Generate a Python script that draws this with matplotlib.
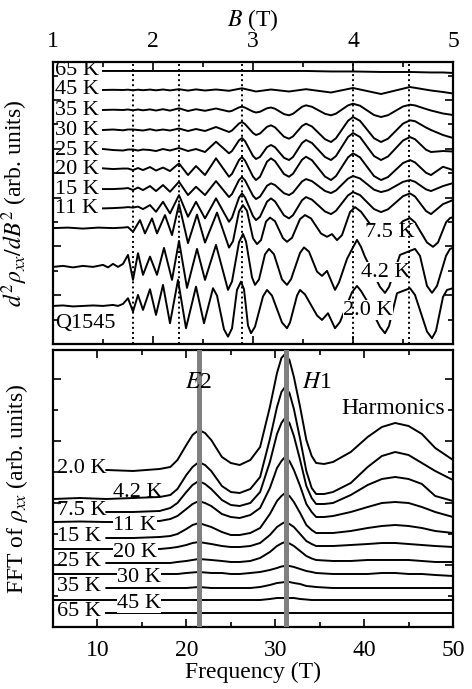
import numpy as np
import matplotlib
matplotlib.use("Agg")
import matplotlib.pyplot as plt
from matplotlib.ticker import MultipleLocator

plt.rcParams['font.family'] = ['Liberation Serif', 'DejaVu Serif']
plt.rcParams['mathtext.fontset'] = 'stix'

nan = np.nan

# ---------------- top panel: d2rho/dB2 vs B ----------------
B_flat = [1.50, 1.60, 1.70, 1.75, 1.80, 1.85, 1.90, 1.97, 2.03, 2.10, 2.17, 2.26, 2.35, 2.43,
          2.52, 2.63, 2.76, 2.89, 3.03, 3.18, 3.36, 3.53, 3.78, 4.00, 4.28, 4.57, 4.78, 4.90, 5.00]
h_65K = [0, 0, 0, 0, 0, 0, 0, 0, 0, 0, 0, 0, 0, 0, 0, 0, 0, 0, 0, 0, 0, 0,
         -0.5, -0.5, -1, -1, -1.5, -1.5, -2]
h_45K = [0, 0.2, 0, 0.3, -0.3, 0.3, -0.2, 0.4, -0.3, 0.5, -0.4, 0.8, -0.6, 0.6, -0.5,
         0.5, -0.8, 1.7, -1.5, 0.5, -1.5, 0.8, -2.5, 2.0, -4.0, 3.0, -0.5, -2.0, -3.5]

B_grid = [1.50, 1.60, 1.70, 1.75, 1.80, 1.85, 1.90, 1.97, 2.03, 2.10, 2.17, 2.26, 2.35, 2.43,
          2.52, 2.63, 2.76, 2.79, 2.86, 2.89, 2.92, 3.00, 3.03, 3.07, 3.14, 3.18, 3.22, 3.31,
          3.36, 3.40, 3.49, 3.53, 3.59, 3.72, 3.78, 3.83, 3.95, 4.00, 4.07, 4.21, 4.28, 4.35,
          4.50, 4.57, 4.62, 4.73, 4.78, 4.90, 5.00]
h_35K = [0, 0.3, 0, 0.5, -0.3, 0.5, -0.3, 0.6, -0.5, 0.8, -0.6, 1.7, -1.0, 0.8, -0.8, 1.5, -1.5,
         -0.8, 2.6, 3.3, 2.4, -1.6, -2.5, -1.75, 1.75, 2.5, 1.3, -4.1, -5.3, -3.8, 3.2, 4.7,
         3.2, -3.8, -5.3, -3.6, 4.6, 6.3, 4.3, -5.0, -7.0, -5.2, 3.5, 5.3, 4.6, 1.0, -0.5,
         -3.5, -5.0]
h_30K = [0, 0.5, -0.3, 0.5, 0.5, 0, -0.5, 0.8, -0.5, 0.5, -0.5, 1.5, -1.0, 1.0, -1.0, 3.0, -2.0,
         -0.5, 6.5, 8.0, 6.0, -3.0, -5.0, -3.5, 3.2, 4.7, 2.7, -6.7, -8.7, -6.4, 4.0, 6.3,
         3.5, -9.2, -12.0, -8.2, 9.2, 13.0, 9.2, -8.2, -12.0, -8.7, 6.4, 9.7, 8.8, 2.5, 0,
         -5.0, -8.0]
h_25K = [1, 0, -0.5, 0.5, 0.5, -0.5, 0.5, 0, -1, 1, -0.5, 2, -1, 1, -2, 8.3, -3.3,
         -1.0, 9.7, 12, 8.9, -5.9, -9, -6.9, 2.9, 5, 2.8, -7.8, -10, -7, 7, 10,
         7, -7, -10, -6, 13, 17, 13, -6, -10, -6.5, 9.5, 13, 10.8, 0.3, -2,
         -1, -1.5]
h_20K = [0.7, 0, 0.5, 0.5, -1, 1, -1, 2, -1.5, 1.5, -2, 5.7, -6, 3, -6, 10.7, -7.7,
         -4.8, 9.0, 12, 8.5, -7.5, -11, -7.7, 7.4, 10.7, 7.9, -5.0, -7.7, -4.7, 9.3, 12.3,
         8.8, -7.5, -11, -7, 11.7, 15.7, 11.7, -7, -11, -8, 6, 9, 6.7, -3.7, -6,
         2.3, -1]
h_15K = [0, 0, 0.5, 1, -1, 1.5, -1, 3, -2, 4, -2.7, 7.3, -6, 2.3, -6, 8, -8,
         -5, 9, 12, 8.7, -6.7, -10, -7.6, 3.3, 5.7, 4.0, -4.2, -6, -3.6, 7.6, 10,
         7.9, -1.9, -4, -1.4, 10.4, 13, 10.6, -0.6, -3, -1.2, 7.2, 9, 7.3, -0.3, -2,
         3, 6]
h_11K = [-0.3, 0, 0.5, 1, 0.5, 1.5, -1, 3, -3.7, 6.3, -5.3, 13, -8.7, 6.3, -10.3, 9.7, -13.7,
         -9.5, 10.5, 14.7, 10.7, -8, -12, -8.7, 6.4, 9.7, 6.7, -7.3, -10.3, -7.1, 7.8, 11,
         8.4, -3.4, -6, -2.7, 12.7, 16, 13, -1, -4, -1.2, 11.9, 14.7, 11.6, -2.9, -6,
         4, 8]

B_75K = [1.00, 1.15, 1.30, 1.45, 1.60, 1.70, 1.75, 1.80, 1.87, 1.92, 1.99, 2.04, 2.12, 2.19,
         2.26, 2.35, 2.44, 2.52, 2.64, 2.76,
         2.80, 2.86, 2.90, 2.94, 3.00, 3.04, 3.08, 3.13, 3.17, 3.22, 3.30, 3.34, 3.39, 3.47,
         3.52, 3.58, 3.68, 3.74, 3.79, 3.84, 3.89, 3.97, 4.02, 4.08, 4.24, 4.30, 4.37, 4.50,
         4.57, 4.62, 4.74, 4.80, 4.85, 4.93, 4.97, 5.00]
h_75K = [0, 0.5, -0.5, 0.5, 0, 0.5, 1, -3.7, 8, -5.3, 9.7, -5.3, 13, -7, 24, -15, 13.5,
         -14.5, 15.5, -19.5,
         -13.1, 16.6, 23, 17.2, -10.2, -16, -12, 6.5, 10.5, 6.9, -10.1, -13.7, -9.7, 9,
         13, 9.7, -5.4, -8.7, -6, -12, -7, 16, 21, 16.4, -5.4, -10, -7, 7,
         10, 5.7, -14.4, -18.7, -14.4, 5.7, 10, 11]

B_42K = [1.00, 1.10, 1.20, 1.30, 1.40, 1.50, 1.55, 1.60, 1.65, 1.70, 1.75, 1.80, 1.85, 1.90,
         1.97, 2.04, 2.11, 2.19, 2.26, 2.34, 2.44, 2.52, 2.63, 2.75,
         2.79, 2.86, 2.90, 2.93, 2.99, 3.02, 3.06, 3.12, 3.16, 3.21, 3.29, 3.34, 3.38, 3.47,
         3.51, 3.56, 3.64, 3.69, 3.74, 3.82, 3.86, 3.94, 4.00, 4.04, 4.08, 4.12, 4.27, 4.32,
         4.36, 4.47, 4.62, 4.67, 4.74, 4.79, 4.84, 4.93, 4.97, 5.00]
h_42K = [0, 1, -0.5, 1, 0, 2, -0.5, 3, 0, 3, 12, -13, 13.7, -8, 10.3, -8, 19, -13, 26, -21,
         18, -13, 22, -23,
         -14.6, 24.6, 33, 25.4, -10.4, -18, -12.6, 12.6, 18, 12.6, -12.6, -18, -12.4, 13.9,
         19.5, 15.2, -4.7, -9, -4, -23, -15.5, 8, 19.5, 27, 20, 10, -20, -26,
         -20, 12, 18, 11, -19, -26, -19, 11, 18, 19]

B_20K = [1.00, 1.10, 1.20, 1.30, 1.40, 1.50, 1.60, 1.65, 1.70, 1.75, 1.80, 1.85, 1.90, 1.97,
         2.03, 2.10, 2.17, 2.25, 2.33, 2.43, 2.51, 2.60, 2.64, 2.71, 2.75,
         2.79, 2.84, 2.88, 2.91, 2.95, 2.98, 3.02, 3.10, 3.14, 3.19, 3.29, 3.34, 3.37, 3.44,
         3.47, 3.52, 3.64, 3.69, 3.75, 3.82, 3.87, 3.99, 4.04, 4.08, 4.14, 4.27, 4.32, 4.36,
         4.44, 4.57, 4.62, 4.74, 4.79, 4.83, 4.90, 4.94, 5.00]
h_20K_low = [0, 0.5, -0.5, 0, 0.5, 0, 1, 0, 2, 7.7, -5.7, 11, -4, 16.7, -9, 21, -17.3, 26,
             -22.3, 19.3, -17.3, 17.7, 10.4, -23.4, -30.7,
             -22.5, 16, 24.3, 16.6, -19.6, -27.3, -20.8, 9.5, 16, 10.3, -16.6, -22.3, -16.6,
             10.3, 16, 11.5, -9.5, -14, -7.3, -22.3, -16, 13.7, 20, 15, 5, -21, -27.3, -20,
             12.7, 17.7, 11, -25.6, -32.3, -25, 9, 16, 17.7]

top_labels = ['65 K', '45 K', '35 K', '30 K', '25 K', '20 K', '15 K', '11 K',
              '7.5 K', '4.2 K', '2.0 K']
top_offsets = [11.19, 10.41, 9.59, 8.77, 7.95, 7.17, 6.35, 5.57, 4.75, 3.16, 1.56]
dotted_B = [1.80, 2.26, 2.89, 4.00, 4.56]
B_ticks = [1, 2, 3, 4, 5]

# ---------------- bottom panel: FFT vs frequency ----------------
F_grid = [5, 8, 11, 14, 17, 18.2, 19, 20, 20.7, 21.4, 22.1, 22.8, 24, 25, 26, 27.2, 28.3,
          29.4, 30.2, 30.7, 31.1, 31.6, 32.1, 32.8, 33.5, 34.1, 34.6, 35.5, 36.5, 38.5, 40.4,
          42, 43.5, 45, 46.5, 48, 50]
fft_20K_low = [nan, nan, 0, -1, 1, 3, 10, 25, 35, 40, 37, 30, 13, 7, 5, 10, 23, 63, 97, 112,
               116, 110, 93, 63, 30, 14, 7, 6, 8, 18, 33, 43, 47, 44, 36, 22, 10]
fft_42K = [0, 1, 0, 1, 2, 4, 10, 24, 32, 37, 34, 28, 13, 7, 6, 10, 22, 60, 92, 107,
           112, 106, 90, 60, 28, 11, 5, 5, 7, 16, 32, 43, 47, 44, 36, 28, 19]
fft_75K = [nan, nan, 0, 0, 1, 4, 9, 20, 27, 31, 28, 23, 12, 7, 6, 9, 20, 50, 78, 89,
           94, 89, 76, 52, 26, 14, 8, 8, 9, 17, 27, 33, 35, 33, 28, 16, 11]
fft_11K = [0, 0.5, 0, 0, 1, 3, 6, 13, 18, 21, 19, 16, 8, 5, 4, 7, 14, 34, 54, 61,
           65, 61, 52, 36, 18, 10, 5, 5, 6, 10, 15, 19, 20, 19, 15, 10, 5]
fft_15K = [nan, nan, 0, 0, 1, 2, 4, 9, 13, 15, 13, 11, 6, 3, 3, 5, 10, 24, 37, 42,
           45, 42, 36, 25, 13, 8, 5, 5, 5, 7, 10, 12, 13, 12, 10, 7, 5]
fft_20K = [0, 0, 0, 0, 0, 1, 2, 4, 6, 7, 6, 5, 3, 2, 2, 3, 6, 14, 22, 25,
           27, 25, 22, 15, 8, 5, 3, 3, 3, 4, 5, 6, 6, 5, 4, 3, 2]
fft_25K = [nan, nan, 0, 0, 0, 0, 1, 2, 3, 4, 3.5, 3, 2, 1, 1, 2, 5, 11, 17, 19.5,
           21, 19.5, 17, 12, 7, 4.5, 3, 2.5, 2, 2, 3, 3, 3, 3, 2, 1, 1]
fft_30K = [0, 0, 0, 0, 0, 0, 0, 1, 1.5, 2, 1.5, 1, 1, 0, 0, 1, 2, 4, 6, 7.5,
           8, 8, 7, 5, 3, 2, 1, 0.5, 0, 0, 0, 1, 1, 0, 0, -1, -2]
fft_35K = [nan, nan, 0, 0, 0, 0, 0, 0, 0.5, 1, 0.5, 0, 0, 0, 0, 0, 1, 3, 5, 5.5,
           6, 6, 5, 4, 2, 1.5, 1, 0.5, 0, 0, 0, 0, 0, 0, 0, 0, 0]
fft_45K = [0, 0, 0, 0, 0, 0, 0, 0, 0, 0, 0, 0, 0, 0, 0, 0, 0, 1, 2, 2,
           2, 2, 2, 1, 0.5, 0, 0, 0, 0, 0, 0, 0, 0, 0, 0, 0, 0]
fft_65K = [nan, nan, 0, 0, 0, 0, 0, 0, 0, 0, 0, 0, 0, 0, 0, 0, 0, 0, 0, 0,
           0, 0, 0, 0, 0, 0, 0, 0, 0, 0, 0, 0, 0, 0, 0, 0, 0]

fft_labels = ['2.0 K', '4.2 K', '7.5 K', '11 K', '15 K', '20 K', '25 K', '30 K',
              '35 K', '45 K', '65 K']
fft_offsets = [5.065, 4.129, 3.71, 3.387, 2.871, 2.516, 2.065, 1.71, 1.258, 0.871, 0.452]
E2_freq = 21.4
H1_freq = 31.2

# ---------------- figure ----------------
W, H = 472, 689
fig = plt.figure(figsize=(W / 100, H / 100), dpi=100)
ax1 = fig.add_axes([53 / W, 1 - 344 / H, 400 / W, 282 / H])
ax2 = fig.add_axes([53 / W, 1 - 627 / H, 400 / W, 277 / H])

top_scale = 1 / 24.4
fft_scale = 1 / 31.0
lw = 1.4
fs_tick = 17
fs_lab = 16

top_series = [(B_flat, h_65K), (B_flat, h_45K), (B_grid, h_35K), (B_grid, h_30K),
              (B_grid, h_25K), (B_grid, h_20K), (B_grid, h_15K), (B_grid, h_11K),
              (B_75K, h_75K), (B_42K, h_42K), (B_20K, h_20K_low)]
for (bx, hy), off in zip(top_series, top_offsets):
    ax1.plot(bx, off + np.array(hy) * top_scale, color='k', lw=lw, zorder=2,
             solid_joinstyle='round')

for b in dotted_B:
    ax1.axvline(b, color='k', ls=(0, (1, 1.6)), lw=1.4, zorder=4)

for lab, off in zip(top_labels[:8], top_offsets[:8]):
    ax1.text(1.02, off, lab, fontsize=fs_lab, ha='left', va='center', zorder=5)
right_pos = {'7.5 K': (4.37, 4.55), '4.2 K': (4.33, 2.95), '2.0 K': (4.15, 1.39)}
for lab, (bx, by) in right_pos.items():
    ax1.text(bx, by, lab, fontsize=fs_lab, ha='center', va='center', zorder=3,
             bbox=dict(facecolor='white', edgecolor='none', pad=0.2))
ax1.text(1.02, 0.86, 'Q1545', fontsize=fs_lab, ha='left', va='center', zorder=5)

ax1.set_xlim(1, 5)
ax1.set_ylim(0, 282 / 24.4)
ax1.set_xticks(B_ticks)
ax1.xaxis.set_minor_locator(MultipleLocator(0.5))
ax1.yaxis.set_major_locator(MultipleLocator(2))
ax1.yaxis.set_minor_locator(MultipleLocator(1))
ax1.tick_params(axis='x', which='both', top=True, bottom=True, labeltop=True,
                labelbottom=False, direction='in', labelsize=fs_tick, pad=7)
ax1.tick_params(axis='y', which='both', left=True, right=True, labelleft=False,
                direction='in')
ax1.xaxis.set_label_position('top')
ax1.set_xlabel(r'$B$ (T)', fontsize=fs_tick, labelpad=4)
ax1.set_ylabel(r'$d^2\rho_{xx}/dB^2$ (arb. units)', fontsize=fs_tick)
ax1.yaxis.set_label_coords(-0.058, 0.5)

fft_series = [fft_20K_low, fft_42K, fft_75K, fft_11K, fft_15K, fft_20K, fft_25K, fft_30K,
              fft_35K, fft_45K, fft_65K]
for amp, off in zip(fft_series, fft_offsets):
    ax2.plot(F_grid, off + np.array(amp, dtype=float) * fft_scale, color='k', lw=lw,
             zorder=2, solid_joinstyle='round')

for f in (E2_freq, H1_freq):
    ax2.axvline(f, color='#808080', lw=3.6, zorder=3)

left_x = 5.45
for i, (lab, off) in enumerate(zip(fft_labels, fft_offsets)):
    if i % 2 == 0:
        ax2.text(left_x, off + 0.05, lab, fontsize=fs_lab, ha='left', va='center', zorder=5)
    elif lab == '4.2 K':
        ax2.text(11.8, off + 0.22, lab, fontsize=fs_lab, ha='left', va='center', zorder=5)
    else:
        xx = 11.8 if lab in ('11 K', '20 K') else 12.2
        ax2.text(xx, off - 0.1, lab, fontsize=fs_lab, ha='left', va='center', zorder=5,
                 bbox=dict(facecolor='white', edgecolor='none', pad=0.2))

ax2.text(E2_freq, 7.9, r'$E$2', fontsize=fs_tick, ha='center', va='center', zorder=5)
ax2.text(34.7, 7.9, r'$H$1', fontsize=fs_tick, ha='center', va='center', zorder=5)
ax2.text(43.3, 7.06, 'Harmonics', fontsize=fs_tick, ha='center', va='center', zorder=5,
         bbox=dict(facecolor='white', edgecolor='none', pad=0.3))

ax2.set_xlim(5, 50)
ax2.set_ylim(0, 277 / 31)
ax2.xaxis.set_major_locator(MultipleLocator(10))
ax2.xaxis.set_minor_locator(MultipleLocator(5))
ax2.yaxis.set_major_locator(MultipleLocator(2))
ax2.yaxis.set_minor_locator(MultipleLocator(1))
ax2.tick_params(axis='x', which='both', top=True, bottom=True, direction='in',
                labelsize=fs_tick, pad=9)
ax2.tick_params(axis='y', which='both', left=True, right=True, labelleft=False,
                direction='in')
ax2.set_xlabel('Frequency (T)', fontsize=fs_tick, labelpad=1)
ax2.set_ylabel(r'FFT of $\rho_{xx}$ (arb. units)', fontsize=fs_tick)
ax2.yaxis.set_label_coords(-0.058, 0.5)

for ax in (ax1, ax2):
    for s in ax.spines.values():
        s.set_linewidth(1.6)
    ax.tick_params(which='major', length=6, width=1.2)
    ax.tick_params(which='minor', length=3.5, width=1.2)

fig.savefig('out.png', dpi=100)
